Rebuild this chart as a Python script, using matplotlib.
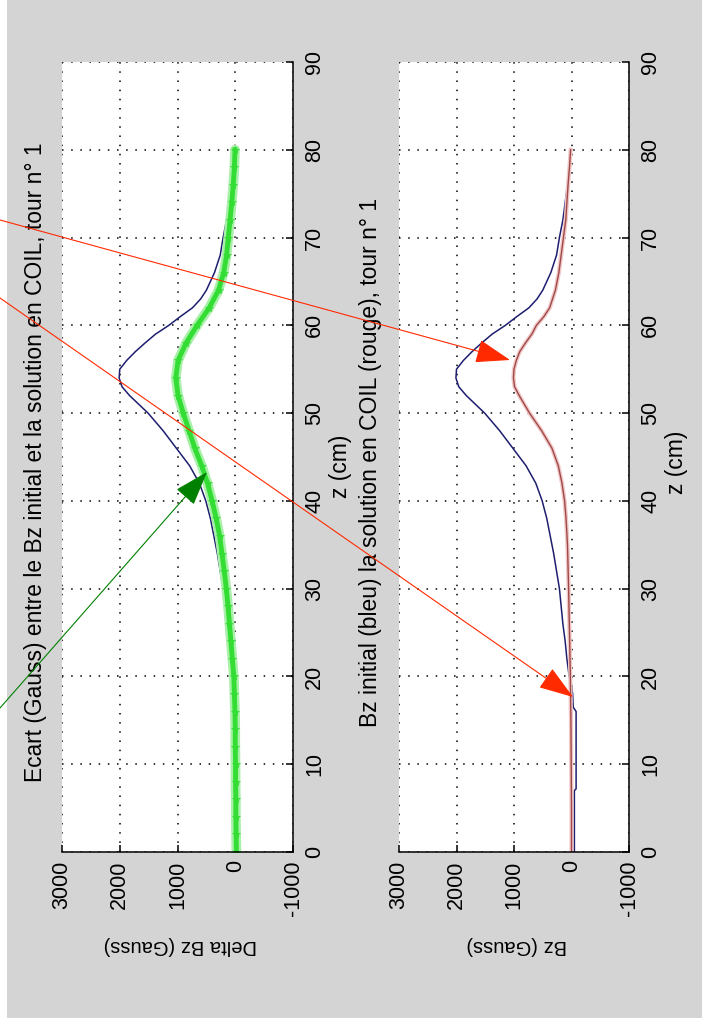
import matplotlib
matplotlib.use("Agg")
import matplotlib.pyplot as plt
from matplotlib.patches import Rectangle, FancyArrowPatch, ArrowStyle

# Bz initial (bleu)
z_blue = [0, 7, 7.2, 16, 16.5, 18, 19, 20, 22, 24, 26, 28, 30, 32, 34, 36, 38, 40,
          42, 44, 46, 48, 50, 52, 53, 54, 55, 56, 57, 58, 59, 60, 61, 62, 63, 64,
          66, 68, 70, 72, 74, 76, 78, 80]
bz_blue = [-50, -50, -80, -80, -30, -20, 0, 40, 80, 110, 150, 180, 210, 260, 310, 370, 430, 510,
           620, 790, 1020, 1250, 1510, 1830, 1960, 2010, 2000, 1880, 1730, 1560, 1380, 1150, 950, 740, 600, 500,
           360, 260, 210, 150, 110, 70, 35, 10]

# solution en COIL (rouge)
z_red = [0, 5, 10, 15, 20, 25, 30, 35, 38, 40, 42, 44, 46, 48, 50, 52, 53, 54, 55, 56,
         57, 58, 59, 60, 61, 62, 63, 64, 66, 68, 70, 72, 74, 76, 78, 80]
bz_red = [0, 0, 5, 10, 20, 35, 50, 70, 95, 120, 165, 230, 340, 520, 730, 910, 990, 1010, 1000, 960,
          900, 800, 690, 610, 480, 380, 330, 280, 220, 180, 140, 100, 80, 60, 35, 15]

# ecart (vert)
z_green = [0, 2, 4, 6, 8, 10, 12, 14, 16, 18, 20, 22, 24, 26, 28, 30, 32, 34, 36, 38, 40,
           42, 44, 46, 48, 50, 52, 54, 56, 58, 60, 62, 64, 66, 68, 70, 72, 74, 76, 78, 80]
delta_green = [-20, -15, -10, -10, -5, -5, 0, 0, 5, 15, 25, 50, 75, 100, 125, 155, 190, 230, 270, 330, 400,
               480, 580, 700, 800, 900, 990, 1030, 990, 850, 660, 450, 290, 200, 150, 120, 90, 60, 35, 15, 5]

bz_ticks = [3000, 2000, 1000, 0, -1000]
z_ticks = [0, 10, 20, 30, 40, 50, 60, 70, 80, 90]

W, H = 702, 1029
plt.rcParams['font.family'] = ['Liberation Sans', 'DejaVu Sans']

fig = plt.figure(figsize=(W / 100, H / 100), dpi=100, facecolor='white')


def fx(x):
    return x / W


def fy(y):
    return 1 - y / H


# grey window background
fig.add_artist(Rectangle((fx(7), fy(1018)), fx(W - 7), 1018 / H, transform=fig.transFigure,
                         facecolor='#d4d4d4', edgecolor='none', zorder=-1))


def make_axes(x0, x1):
    ax = fig.add_axes([fx(x0), fy(852), fx(x1 - x0), 790 / H])
    ax.set_facecolor('white')
    ax.set_xlim(3000, -1000)
    ax.set_ylim(0, 90)
    ax.set_xticks(bz_ticks)
    ax.set_xticklabels([str(t) for t in bz_ticks])
    ax.set_yticks(z_ticks)
    ax.yaxis.tick_right()
    ax.spines['top'].set_visible(False)
    ax.spines['left'].set_visible(False)
    ax.spines['bottom'].set_linewidth(1.1)
    ax.spines['right'].set_linewidth(1.1)
    ax.tick_params(direction='in', length=5, width=1.1, labelsize=15.5,
                   bottom=True, top=False, left=False, right=True)
    ax.tick_params(axis='x', labelrotation=90, pad=6)
    ax.tick_params(axis='y', labelrotation=90, pad=8)
    for lab in ax.get_yticklabels():
        lab.set_verticalalignment('center')
    ax.grid(True, linestyle=(0, (1, 5)), color='k', linewidth=1.1)
    ax.set_axisbelow(True)
    return ax


ax1 = make_axes(62, 293)
# the blue curve is hidden under the green band below z ~ 19
ax1.plot(bz_blue[6:], z_blue[6:], color='#1e1e70', lw=1.1)
ax1.plot(delta_green, z_green, color='#a8f0a8', lw=7, solid_capstyle='round')
ax1.plot(delta_green, z_green, color='#33dd33', lw=3.5, marker='*', markersize=6,
         markeredgewidth=0.5)

ax2 = make_axes(399, 629)
ax2.plot(bz_blue, z_blue, color='#1e1e70', lw=1.1)
ax2.plot(bz_red, z_red, color='#f0c8c8', lw=3)
ax2.plot(bz_red, z_red, color='#a04848', lw=1.0)

# titles and labels (whole figure is turned a quarter turn)
fig.text(fx(36), fy(462), "Ecart (Gauss) entre le Bz initial et la solution en COIL, tour n° 1",
         rotation=90, ha='center', va='center', fontsize=16.4)
fig.text(fx(370), fy(462), "Bz initial (bleu) la solution en COIL (rouge), tour n° 1",
         rotation=90, ha='center', va='center', fontsize=16.5)
fig.text(fx(340), fy(466), "z (cm)", rotation=90, ha='center', va='center', fontsize=16.5)
fig.text(fx(677), fy(462), "z (cm)", rotation=90, ha='center', va='center', fontsize=16.5)
fig.text(fx(180), fy(945), "Delta Bz (Gauss)", rotation=180, ha='center', va='center', fontsize=14.5)
fig.text(fx(517), fy(946), "Bz (Gauss)", rotation=180, ha='center', va='center', fontsize=14.5)

# annotation arrows
arrows = [((0, 220), (510, 360), '#ff2a00'),
          ((0, 298), (573, 697), '#ff2a00'),
          ((0, 708), (207, 472), '#008000')]
style = ArrowStyle('-|>', head_length=2.2, head_width=0.75)
for (xa, ya), (xb, yb), col in arrows:
    fig.add_artist(FancyArrowPatch((fx(xa), fy(ya)), (fx(xb), fy(yb)), transform=fig.transFigure,
                                   arrowstyle=style, mutation_scale=10, color=col, lw=0.8,
                                   shrinkA=0, shrinkB=0, zorder=5))

fig.savefig("out.png", dpi=100, facecolor='white')
